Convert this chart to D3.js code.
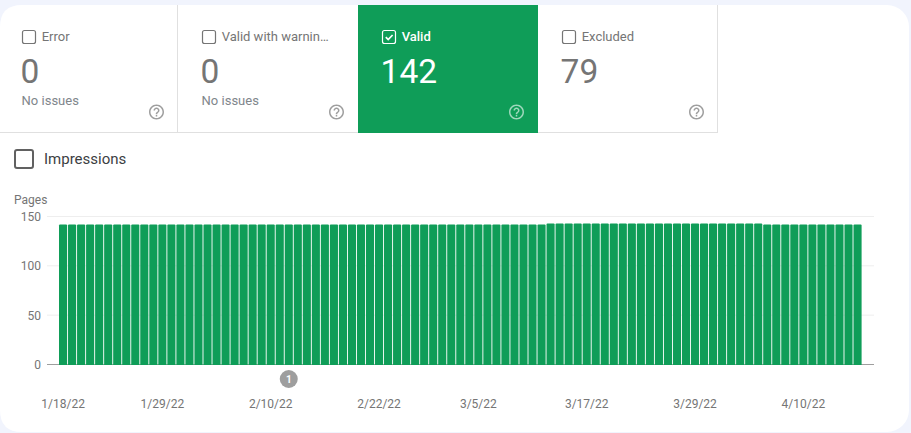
<!DOCTYPE html>
<html>
<head>
<meta charset="utf-8">
<script src="https://cdn.jsdelivr.net/npm/d3@7"></script>
<style>
  html, body { margin: 0; padding: 0; background: #f1f4fd; overflow: hidden; }
  svg { display: block; font-family: Roboto, sans-serif; }
  .axis .domain { display: none; }
</style>
</head>
<body>
<svg id="chart" width="911" height="433"></svg>
<script>
// Status tabs above the chart
const tabNames = ["Error", "Valid with warnin\u2026", "Valid", "Excluded"];
const tabCounts = ["0", "0", "142", "79"];
const tabNotes = ["No issues", "No issues", "", ""];
const tabChecked = [false, false, true, false];

// Valid pages per day, 1/18/22 to 4/16/22
const validPages = [
  142, 142, 142, 142, 142, 142, 142, 142, 142, 142,
  142, 142, 142, 142, 142, 142, 142, 142, 142, 142,
  142, 142, 142, 142, 142, 142, 142, 142, 142, 142,
  142, 142, 142, 142, 142, 142, 142, 142, 142, 142,
  142, 142, 142, 142, 142, 142, 142, 142, 142, 142,
  142, 142, 142, 142, 143, 143, 143, 143, 143, 143,
  143, 143, 143, 143, 143, 143, 143, 143, 143, 143,
  143, 143, 143, 143, 143, 143, 143, 143, 142, 142,
  142, 142, 142, 142, 142, 142, 142, 142, 142
];
const yTicks = [0, 50, 100, 150];
const xTickDays = [0, 11, 23, 35, 46, 58, 70, 82];
const xTickLabels = ["1/18/22", "1/29/22", "2/10/22", "2/22/22", "3/5/22", "3/17/22", "3/29/22", "4/10/22"];
const annotationDay = 25;
const annotationText = "1";

const GREEN = "#0f9d58", GREY = "#757575", RULE = "#e0e0e0";
const HELP_ICON = "M11 18h2v-2h-2v2zm1-16C6.48 2 2 6.48 2 12s4.48 10 10 10 10-4.48 10-10S17.52 2 12 2zm0 18c-4.41 0-8-3.59-8-8s3.59-8 8-8 8 3.59 8 8-3.59 8-8 8zm0-14c-2.21 0-4 1.79-4 4h2c0-1.1.9-2 2-2s2 .9 2 2c0 2-3 1.75-3 5h2c0-2.25 3-2.5 3-5 0-2.21-1.79-4-4-4z";

const svg = d3.select("#chart");

// Rounded white card
svg.append("rect")
  .attr("x", -30).attr("y", 5)
  .attr("width", 939).attr("height", 427)
  .attr("rx", 22)
  .attr("fill", "#fff");
svg.append("path")
  .attr("d", "M0 5H22Q0 5 0 27Z M0 432H22Q0 432 0 410Z")
  .attr("fill", "#f1f4fd");

// Rule under the tabs
svg.append("rect")
  .attr("x", 0).attr("y", 132).attr("width", 718).attr("height", 1).attr("fill", RULE);

// Tabs
const tabX = d3.scaleLinear().domain([0, 1]).range([-2, 178]);
const tabs = svg.selectAll("g.tab").data(tabNames).join("g")
  .attr("class", "tab")
  .attr("transform", (d, i) => `translate(${tabX(i)},5)`);

tabs.filter((d, i) => tabChecked[i]).append("rect")
  .attr("width", 180).attr("height", 128).attr("fill", GREEN);

tabs.filter((d, i) => i !== 2 && i !== 1).append("rect")
  .attr("x", 179).attr("width", 1).attr("height", 127).attr("fill", RULE);

tabs.append("rect")
  .attr("x", 24.5).attr("y", 25.5).attr("width", 13).attr("height", 13).attr("rx", 2)
  .attr("fill", "none")
  .attr("stroke", (d, i) => tabChecked[i] ? "#fff" : GREY)
  .attr("stroke-width", 1.2);

tabs.filter((d, i) => tabChecked[i]).append("path")
  .attr("d", "M27.8 32.2l2.4 2.4 4.4-4.6")
  .attr("fill", "none").attr("stroke", "#fff").attr("stroke-width", 1.7);

tabs.append("text")
  .attr("x", 43.7).attr("y", 36)
  .attr("font-size", 13)
  .attr("font-weight", (d, i) => tabChecked[i] ? 500 : 400)
  .attr("fill", (d, i) => tabChecked[i] ? "#fff" : GREY)
  .text(d => d);

tabs.append("text")
  .attr("x", 22.6).attr("y", 78)
  .attr("font-size", 33.5)
  .attr("font-weight", 400)
  .attr("fill", (d, i) => tabChecked[i] ? "#fff" : GREY)
  .text((d, i) => tabCounts[i]);

tabs.append("text")
  .attr("x", 23.6).attr("y", 100)
  .attr("font-size", 13)
  .attr("fill", "#80868b")
  .text((d, i) => tabNotes[i]);

tabs.append("path")
  .attr("d", HELP_ICON)
  .attr("transform", "translate(149.5,98) scale(0.75)")
  .attr("fill", (d, i) => tabChecked[i] ? "#fff" : "#9e9e9e")
  .attr("fill-opacity", (d, i) => tabChecked[i] ? 0.6 : 1);

// Impressions toggle
svg.append("rect")
  .attr("x", 15).attr("y", 150).attr("width", 18).attr("height", 18).attr("rx", 2)
  .attr("fill", "none").attr("stroke", "#616161").attr("stroke-width", 2);
svg.append("text")
  .attr("x", 44).attr("y", 164)
  .attr("font-size", 15).attr("fill", "#3c4043")
  .text("Impressions");

// Chart scales
const x = d3.scaleBand()
  .domain(d3.range(validPages.length))
  .range([59, 861.6])
  .paddingInner(0.1)
  .paddingOuter(0);
const y = d3.scaleLinear().domain([0, 150]).range([364.5, 216.5]);

svg.append("text")
  .attr("x", 14).attr("y", 204)
  .attr("font-size", 12).attr("fill", GREY)
  .text("Pages");

// Horizontal grid and y labels
const yAxis = svg.append("g")
  .attr("class", "axis")
  .attr("transform", "translate(47,0)")
  .call(d3.axisLeft(y).offset(0).tickValues(yTicks).tickSize(-827).tickPadding(6));
yAxis.selectAll("line")
  .attr("stroke", d => d === 0 ? "#9e9e9e" : "#eeeeee");
yAxis.selectAll("text")
  .attr("y", 0.5)
  .attr("font-family", "Roboto, sans-serif")
  .attr("font-size", 12).attr("fill", GREY);

// Daily bars with slightly rounded tops
svg.append("g").selectAll("path").data(validPages).join("path")
  .attr("fill", GREEN)
  .attr("d", (d, i) => {
    const l = x(i), w = x.bandwidth(), t = y(d), b = y(0) + 0.5, r = 1;
    return `M${l} ${b}V${t + r}Q${l} ${t} ${l + r} ${t}H${l + w - r}Q${l + w} ${t} ${l + w} ${t + r}V${b}Z`;
  });

// Date labels
const xAxis = svg.append("g")
  .attr("class", "axis")
  .attr("transform", "translate(0,364.5)")
  .call(d3.axisBottom(x)
    .offset(0)
    .tickValues(xTickDays)
    .tickSize(0)
    .tickPadding(35)
    .tickFormat((d, i) => xTickLabels[i]));
xAxis.selectAll("text")
  .attr("font-family", "Roboto, sans-serif")
  .attr("font-size", 12).attr("fill", GREY);

// Annotation marker
const marker = svg.append("g")
  .attr("transform", `translate(${x(annotationDay) + x.bandwidth() / 2},379)`);
marker.append("circle").attr("r", 9).attr("fill", "#9e9e9e");
marker.append("text")
  .attr("text-anchor", "middle").attr("y", 3.5)
  .attr("font-size", 10).attr("font-weight", 700).attr("fill", "#fff")
  .text(annotationText);
</script>
</body>
</html>
